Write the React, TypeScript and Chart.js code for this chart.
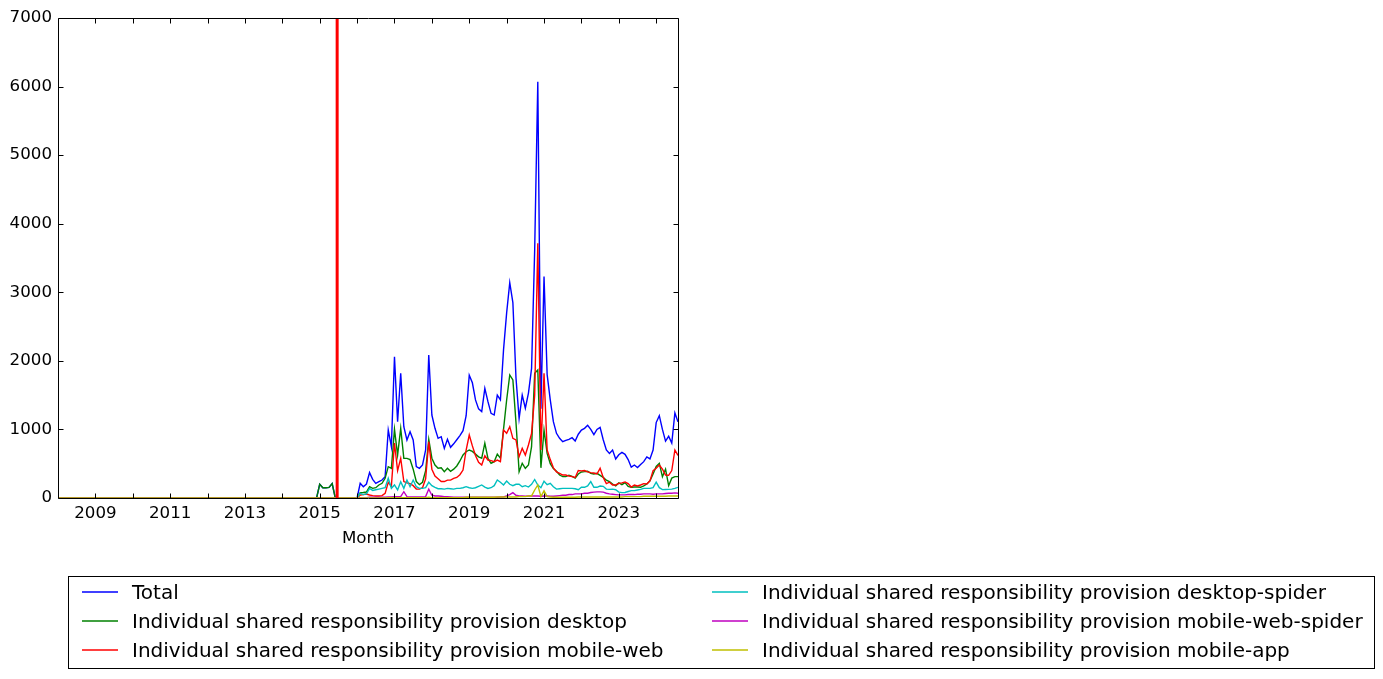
import React, { useEffect, useRef } from "react";
import { Chart, registerables } from "chart.js";

Chart.register(...registerables);

// ---------- data ----------
const FIRST_YEAR = 2008; // first month of the series is January 2008
const LABEL_YEARS = [2009, 2011, 2013, 2015, 2017, 2019, 2021, 2023];
const TICK_YEARS = [2009, 2010, 2011, 2012, 2013, 2014, 2015, 2016, 2017, 2018, 2019, 2020, 2021, 2022, 2023, 2024];
const Y_TICKS = [0, 1000, 2000, 3000, 4000, 5000, 6000, 7000];
const EVENT_MONTH_INDEX = 89.6; // red vertical marker, mid June 2015

// 2008-01 .. 2014-12: every series reads 0
const ZERO_2008_2014 = [
  0, 0, 0, 0, 0, 0, 0, 0, 0, 0, 0, 0,
  0, 0, 0, 0, 0, 0, 0, 0, 0, 0, 0, 0,
  0, 0, 0, 0, 0, 0, 0, 0, 0, 0, 0, 0,
  0, 0, 0, 0, 0, 0, 0, 0, 0, 0, 0, 0,
  0, 0, 0, 0, 0, 0, 0, 0, 0, 0, 0, 0,
  0, 0, 0, 0, 0, 0, 0, 0, 0, 0, 0, 0,
  0, 0, 0, 0, 0, 0, 0, 0, 0, 0, 0, 0,
];

const total = [
  ...ZERO_2008_2014,
  200, 150, 150, 155, 210, 0, 0, 0, 0, 0, 0, 0, // 2015
  0, 214, 165, 204, 370, 272, 214, 238, 262, 311, 991, 748, // 2016
  2060, 1113, 1818, 1040, 846, 967, 846, 457, 433, 481, 700, 2085, // 2017
  1210, 1016, 870, 894, 724, 856, 739, 790, 850, 910, 981, 1200, // 2018
  1790, 1680, 1430, 1300, 1260, 1600, 1405, 1235, 1210, 1500, 1430, 2160, // 2019
  2700, 3140, 2850, 1750, 1160, 1500, 1310, 1530, 1890, 3620, 6070, 1300, // 2020
  3230, 1800, 1430, 1113, 943, 870, 821, 840, 856, 880, 830, 930, // 2021
  990, 1016, 1060, 1000, 925, 1000, 1030, 850, 700, 650, 700, 570, // 2022
  630, 665, 637, 560, 450, 481, 445, 490, 530, 600, 570, 700, // 2023
  1100, 1200, 1000, 830, 900, 800, 1240, 1110, // 2024
];

const desktop = [
  ...ZERO_2008_2014,
  200, 150, 150, 155, 210, 0, 0, 0, 0, 0, 0, 0,
  0, 78, 80, 87, 165, 141, 150, 190, 214, 287, 457, 433,
  1001, 627, 1016, 578, 578, 560, 420, 240, 195, 230, 400, 856,
  580, 481, 433, 440, 384, 433, 390, 420, 467, 540, 627, 675,
  700, 680, 640, 600, 580, 800, 578, 506, 530, 640, 580, 1000,
  1429, 1794, 1721, 1100, 384, 506, 433, 481, 748, 1818, 1867, 440,
  991, 650, 500, 430, 390, 335, 311, 311, 333, 315, 290, 350,
  380, 384, 390, 360, 350, 360, 330, 300, 260, 238, 204, 177,
  220, 195, 225, 170, 156, 160, 160, 156, 175, 205, 250, 350,
  460, 505, 311, 420, 180, 290, 311, 311,
];

const mobileWeb = [
  ...ZERO_2008_2014,
  0, 0, 0, 0, 0, 0, 0, 0, 0, 0, 0, 0,
  0, 44, 50, 58, 44, 35, 29, 30, 35, 68, 230, 170,
  800, 400, 578, 240, 220, 210, 180, 130, 130, 150, 280, 821,
  420, 320, 280, 240, 240, 260, 260, 285, 300, 340, 408, 700,
  919, 760, 620, 520, 480, 615, 554, 545, 530, 554, 530, 991,
  943, 1040, 870, 846, 602, 724, 627, 773, 943, 1500, 3714, 700,
  1818, 700, 560, 440, 380, 360, 335, 335, 320, 311, 300, 400,
  395, 400, 380, 370, 365, 350, 433, 300, 210, 230, 190, 190,
  214, 220, 235, 210, 160, 190, 175, 190, 210, 205, 250, 400,
  433, 480, 420, 335, 330, 400, 700, 620,
];

const desktopSpider = [
  ...ZERO_2008_2014,
  0, 0, 0, 0, 0, 0, 0, 0, 0, 0, 0, 0,
  0, 68, 50, 60, 140, 110, 120, 130, 140, 150, 287, 141,
  190, 117, 238, 141, 262, 165, 262, 165, 141, 141, 150, 229,
  180, 155, 135, 135, 130, 140, 135, 130, 140, 140, 150, 165,
  150, 140, 150, 170, 190, 160, 140, 150, 180, 262, 229, 190,
  248, 200, 180, 200, 200, 165, 180, 160, 200, 270, 190, 150,
  245, 195, 215, 165, 130, 135, 141, 141, 141, 141, 135, 120,
  156, 156, 175, 240, 156, 156, 175, 170, 130, 126, 130, 120,
  85, 78, 80, 95, 107, 107, 117, 125, 140, 141, 141, 150,
  230, 150, 122, 125, 126, 130, 141, 156,
];

const mobileWebSpider = [
  ...ZERO_2008_2014,
  0, 0, 0, 0, 0, 0, 0, 0, 0, 0, 0, 0,
  0, 5, 5, 5, 10, 10, 10, 10, 10, 10, 15, 15,
  20, 20, 20, 92, 20, 15, 15, 15, 15, 15, 20, 130,
  40, 30, 30, 25, 20, 20, 15, 10, 10, 10, 10, 10,
  10, 10, 10, 10, 10, 10, 10, 10, 10, 10, 15, 15,
  30, 50, 78, 40, 30, 30, 25, 30, 30, 30, 30, 25,
  30, 30, 25, 25, 30, 35, 40, 40, 50, 50, 60, 60,
  60, 70, 70, 80, 85, 90, 90, 85, 70, 60, 55, 50,
  45, 45, 45, 50, 50, 50, 55, 55, 60, 60, 60, 55,
  60, 60, 60, 65, 70, 70, 75, 70,
];

const mobileApp = [
  ...ZERO_2008_2014,
  0, 0, 0, 0, 0, 0, 0, 0, 0, 0, 0, 0,
  0, 0, 0, 0, 0, 0, 0, 0, 0, 0, 5, 5,
  5, 5, 5, 5, 5, 5, 5, 5, 5, 5, 5, 10,
  5, 5, 5, 5, 5, 5, 5, 5, 5, 5, 5, 10,
  10, 10, 10, 10, 10, 10, 10, 10, 10, 15, 15, 15,
  15, 15, 15, 15, 20, 20, 20, 30, 30, 117, 190, 20,
  107, 20, 15, 10, 10, 10, 10, 10, 10, 10, 10, 15,
  15, 15, 15, 15, 15, 15, 15, 15, 15, 15, 15, 15,
  15, 15, 20, 20, 20, 20, 20, 20, 25, 25, 25, 25,
  25, 25, 25, 25, 30, 30, 30, 30,
];

const SERIES = [
  { name: "Total", color: "#0000ff", values: total },
  { name: "Individual shared responsibility provision desktop", color: "#008000", values: desktop },
  { name: "Individual shared responsibility provision mobile-web", color: "#ff0000", values: mobileWeb },
  { name: "Individual shared responsibility provision desktop-spider", color: "#00bfbf", values: desktopSpider },
  { name: "Individual shared responsibility provision mobile-web-spider", color: "#bf00bf", values: mobileWebSpider },
  { name: "Individual shared responsibility provision mobile-app", color: "#bfbf00", values: mobileApp },
];

const X_TITLE = "Month";

// ---------- chart ----------
const W = 1383;
const H = 679;
const FONT = "'DejaVu Sans', sans-serif";
const TICK_SIZE = 16.67;
const LEGEND_SIZE = 20;
const LINE_W = 1.4;

const decorations = {
  id: "decorations",
  afterDatasetsDraw(chart: any) {
    const { ctx, chartArea: a, scales } = chart;
    const px = scales.x.getPixelForValue(EVENT_MONTH_INDEX);
    ctx.save();
    ctx.strokeStyle = "#ff0000";
    ctx.lineWidth = 3;
    ctx.beginPath();
    ctx.moveTo(px, a.top);
    ctx.lineTo(px, a.bottom);
    ctx.stroke();
    ctx.restore();
  },
  afterDraw(chart: any) {
    const { ctx, chartArea: a, scales } = chart;
    const L = Math.round(a.left) + 0.5;
    const R = Math.round(a.right) + 0.5;
    const T = Math.round(a.top) + 0.5;
    const B = Math.round(a.bottom) + 0.5;
    ctx.save();
    ctx.strokeStyle = "#000";
    ctx.lineWidth = 1;
    ctx.beginPath();
    ctx.rect(L, T, R - L, B - T);
    ctx.stroke();
    const tl = 5;
    ctx.beginPath();
    for (const yr of TICK_YEARS) {
      const x = Math.round(scales.x.getPixelForValue((yr - FIRST_YEAR) * 12)) + 0.5;
      ctx.moveTo(x, B);
      ctx.lineTo(x, B - tl);
      ctx.moveTo(x, T);
      ctx.lineTo(x, T + tl);
    }
    for (const v of Y_TICKS) {
      const y = Math.round(scales.y.getPixelForValue(v)) + 0.5;
      ctx.moveTo(L, y);
      ctx.lineTo(L + tl, y);
      ctx.moveTo(R, y);
      ctx.lineTo(R - tl, y);
    }
    ctx.stroke();

    // axis title
    ctx.fillStyle = "#000";
    ctx.font = `${TICK_SIZE}px ${FONT}`;
    ctx.textAlign = "center";
    ctx.textBaseline = "middle";
    ctx.fillText(X_TITLE, (a.left + a.right) / 2, 539);

    // legend box
    const bx = 68.5, by = 576.5, bw = 1306, bh = 92;
    ctx.fillStyle = "#fff";
    ctx.fillRect(bx, by, bw, bh);
    ctx.strokeStyle = "#000";
    ctx.strokeRect(bx, by, bw, bh);
    ctx.font = `${LEGEND_SIZE}px ${FONT}`;
    ctx.textAlign = "left";
    ctx.textBaseline = "middle";
    const cols = [82, 712];
    const rows = [592, 621, 650];
    SERIES.forEach((s, i) => {
      const col = Math.floor(i / 3);
      const row = i % 3;
      const x0 = cols[col];
      const y0 = rows[row];
      ctx.strokeStyle = s.color;
      ctx.lineWidth = LINE_W;
      ctx.beginPath();
      ctx.moveTo(x0, y0);
      ctx.lineTo(x0 + 36, y0);
      ctx.stroke();
      ctx.fillStyle = "#000";
      ctx.fillText(s.name, x0 + 50, rows[row] + 2);
    });
    ctx.restore();
  },
};

export default function App() {
  const ref = useRef<HTMLCanvasElement>(null);

  useEffect(() => {
    const canvas = ref.current;
    if (!canvas) return;
    Chart.defaults.font.family = FONT;
    Chart.defaults.color = "#000";
    const lastIndex = total.length - 1;
    const chart = new Chart(canvas, {
      type: "line",
      data: {
        datasets: SERIES.map((s, i) => ({
          label: s.name,
          data: s.values.map((v, m) => ({ x: m, y: v })),
          borderColor: s.color,
          backgroundColor: s.color,
          borderWidth: LINE_W,
          pointRadius: 0,
          tension: 0,
          fill: false,
          order: SERIES.length - i,
        })),
      },
      options: {
        animation: false,
        responsive: false,
        devicePixelRatio: 1,
        layout: { padding: { top: 18, right: W - 678, left: 0, bottom: 0 } },
        plugins: { legend: { display: false }, tooltip: { enabled: false } },
        scales: {
          x: {
            type: "linear",
            min: 0,
            max: lastIndex,
            grid: { display: false, drawTicks: false },
            border: { display: false },
            afterBuildTicks: (scale: any) => {
              scale.ticks = LABEL_YEARS.map((yr) => ({ value: (yr - FIRST_YEAR) * 12 }));
            },
            afterFit: (scale: any) => {
              scale.height = H - 498;
            },
            ticks: {
              autoSkip: false,
              maxRotation: 0,
              padding: 6,
              font: { size: TICK_SIZE },
              callback: (v: any) => String(FIRST_YEAR + Math.round(Number(v) / 12)),
            },
          },
          y: {
            type: "linear",
            min: 0,
            max: 7000,
            grid: { display: false, drawTicks: false },
            border: { display: false },
            afterBuildTicks: (scale: any) => {
              scale.ticks = Y_TICKS.map((v) => ({ value: v }));
            },
            afterFit: (scale: any) => {
              scale.width = 58;
            },
            ticks: {
              padding: 6,
              font: { size: TICK_SIZE },
              callback: (v: any) => String(v),
            },
          },
        },
      },
      plugins: [decorations],
    });
    return () => chart.destroy();
  }, []);

  return (
    <div style={{ position: "fixed", left: 0, top: 0, width: W, height: H, background: "#fff" }}>
      <canvas ref={ref} width={W} height={H} style={{ display: "block", width: W, height: H }} />
    </div>
  );
}
